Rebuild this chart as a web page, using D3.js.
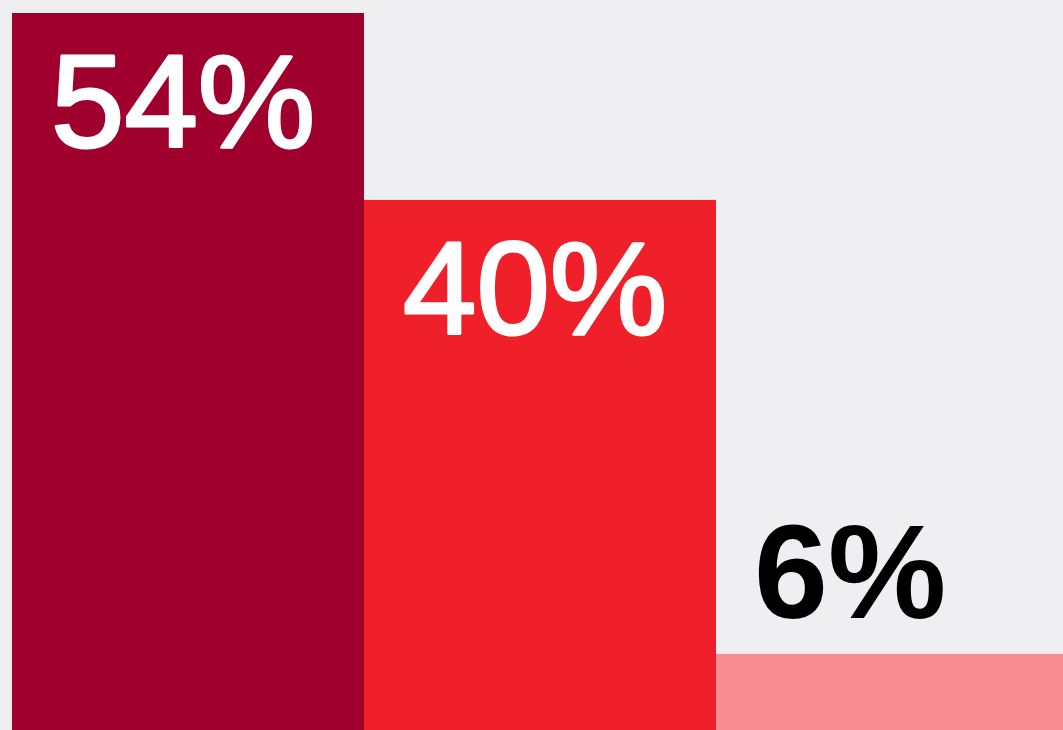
<!DOCTYPE html>
<html>
<head>
<meta charset="utf-8">
<script src="https://cdn.jsdelivr.net/npm/d3@7"></script>
<style>
  html, body { margin: 0; padding: 0; background: #efeff1; overflow: hidden; }
  svg { display: block; }
</style>
</head>
<body>
<svg id="chart" width="1063" height="730"></svg>
<script>
const categories = ["A", "B", "C"];
const values = [54, 40, 6];
const labels = ["54%", "40%", "6%"];
const colors = ["#a0002d", "#ef2029", "#f78d91"];

const W = 1063, H = 730;
const svg = d3.select("#chart");

svg.append("rect").attr("width", W).attr("height", H).attr("fill", "#efeff1");

const x = d3.scaleBand().domain(categories).range([12, 1068]).padding(0);
const y = d3.scaleLinear().domain([0, 54]).range([734, 13]);

const data = categories.map((c, i) => ({ c, v: values[i], label: labels[i], color: colors[i] }));
const isInside = d => (y(0) - y(d.v)) > 200;

svg.selectAll("rect.bar").data(data).enter().append("rect")
  .attr("class", "bar")
  .attr("x", d => x(d.c))
  .attr("width", x.bandwidth())
  .attr("y", d => y(d.v))
  .attr("height", d => y(0) - y(d.v))
  .attr("fill", d => d.color);

svg.selectAll("text.lab").data(data).enter().append("text")
  .attr("class", "lab")
  .attr("x", d => x(d.c) + (isInside(d) ? 39 : 38))
  .attr("y", d => isInside(d) ? y(d.v) + 134 : y(d.v) - 36)
  .attr("font-family", "'Liberation Sans', Arial, Helvetica, sans-serif")
  .attr("font-size", d => isInside(d) ? 132 : 133)
  .attr("font-weight", d => isInside(d) ? "normal" : "bold")
  .attr("fill", d => isInside(d) ? "#ffffff" : "#000000")
  .attr("stroke", d => isInside(d) ? "#ffffff" : "none")
  .attr("stroke-width", d => isInside(d) ? 3 : 0)
  .attr("stroke-linejoin", "round")
  .text(d => d.label);
</script>
</body>
</html>
